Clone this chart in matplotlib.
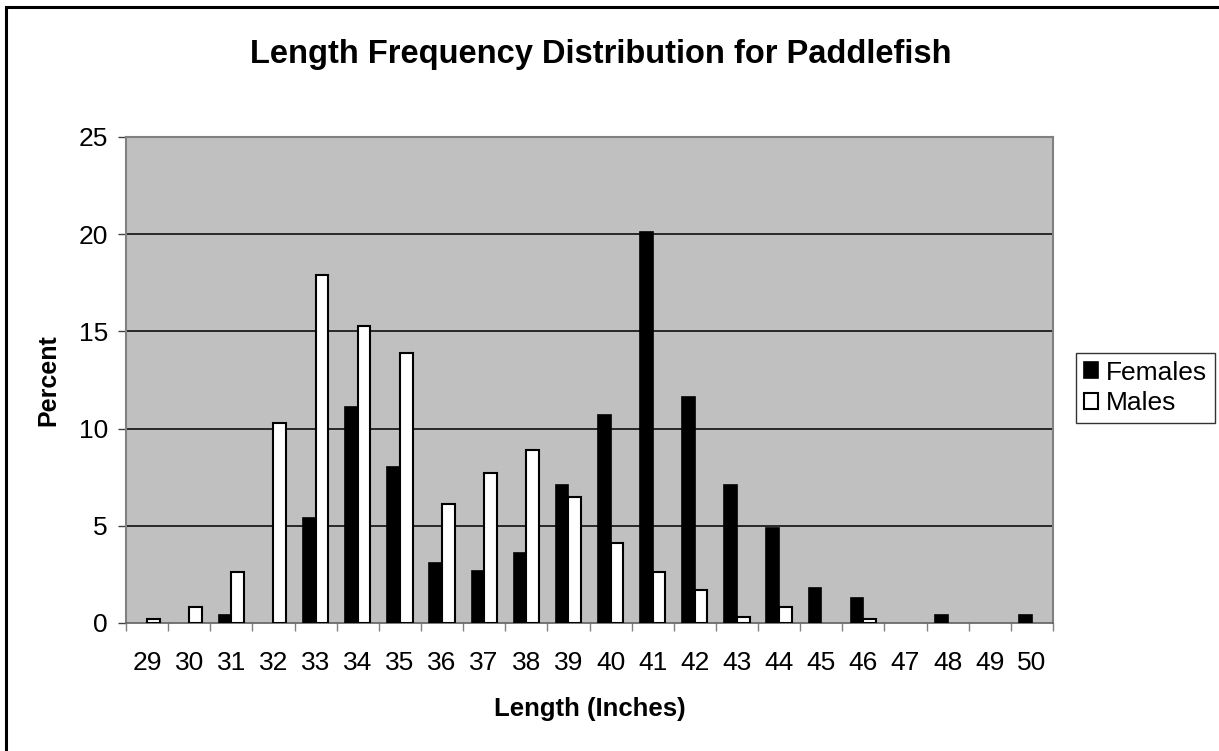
import matplotlib
matplotlib.use("Agg")
import matplotlib.pyplot as plt
import matplotlib.patches as mpatches
import numpy as np

# Length classes (inches) and percent of each sex
lengths = list(range(29, 51))
females = [0, 0, 0.4, 0, 5.4, 11.1, 8.0, 3.1, 2.7, 3.6, 7.1, 10.7,
           20.1, 11.6, 7.1, 4.9, 1.8, 1.3, 0, 0.4, 0, 0.4]
males = [0.2, 0.8, 2.6, 10.3, 17.9, 15.3, 13.9, 6.1, 7.7, 8.9, 6.5, 4.1,
         2.6, 1.7, 0.3, 0.8, 0, 0.2, 0, 0, 0, 0]
y_ticks = [0, 5, 10, 15, 20, 25]

plt.rcParams["font.family"] = ["Liberation Sans", "DejaVu Sans"]

W, H = 1219, 751
fig = plt.figure(figsize=(W / 100, H / 100), dpi=100)
ax = fig.add_axes([126 / W, 128 / H, (1053 - 126) / W, (623 - 137) / H])
ax.set_facecolor("#C0C0C0")

x = np.arange(len(lengths))
bw = 0.3
f = np.array(females, dtype=float)
m = np.array(males, dtype=float)
# empty classes get no bar at all (no outline on the baseline)
fk, mk = f > 0, m > 0
ax.bar(x[fk] - bw / 2, f[fk], width=bw, color="black", edgecolor="black",
       linewidth=1.2, label="Females", zorder=3)
ax.bar(x[mk] + bw / 2, m[mk], width=bw, color="white", edgecolor="black",
       linewidth=1.5, label="Males", zorder=3)

ax.set_xlim(-0.5, len(lengths) - 0.5)
ax.set_ylim(0, 25)
ax.set_yticks(y_ticks)
ax.set_xticks(x)
ax.set_xticklabels([str(v) for v in lengths])
ax.set_xticks(np.arange(len(lengths) + 1) - 0.5, minor=True)
ax.tick_params(axis="x", which="major", length=0, pad=20, labelsize=19)
ax.tick_params(axis="x", which="minor", length=6, color="#808080", width=1)
ax.tick_params(axis="y", length=6, color="#404040", width=1, pad=7, labelsize=19)

for y in y_ticks[1:-1]:
    ax.axhline(y, color="black", linewidth=1.1, zorder=1)

for side in ["left", "top", "right"]:
    ax.spines[side].set_color("#808080")
    ax.spines[side].set_linewidth(1.5)
ax.spines["bottom"].set_color("#606060")
ax.spines["bottom"].set_linewidth(1.2)

ax.set_xlabel("Length (Inches)", fontsize=18.5, fontweight="bold", labelpad=16)
ax.set_ylabel("Percent", fontsize=18, fontweight="bold", labelpad=13)

fig.text(601 / W, 1 - 55 / H, "Length Frequency Distribution for Paddlefish",
         ha="center", va="center", fontsize=23.5, fontweight="bold")

fig.legend(loc="center left", bbox_to_anchor=(1076 / W, 1 - 388 / H),
           fontsize=19, frameon=True, fancybox=False, edgecolor="black",
           handlelength=0.55, handleheight=0.55, handletextpad=0.3,
           borderpad=0.3, labelspacing=0.25, borderaxespad=0)

# outer chart frame
fig.add_artist(mpatches.Rectangle((6 / W, -0.1), 1.2, 1.1 - 7 / H,
                                  transform=fig.transFigure, fill=False,
                                  edgecolor="black", linewidth=2.2,
                                  clip_on=False))

fig.savefig("out.png", dpi=100)
